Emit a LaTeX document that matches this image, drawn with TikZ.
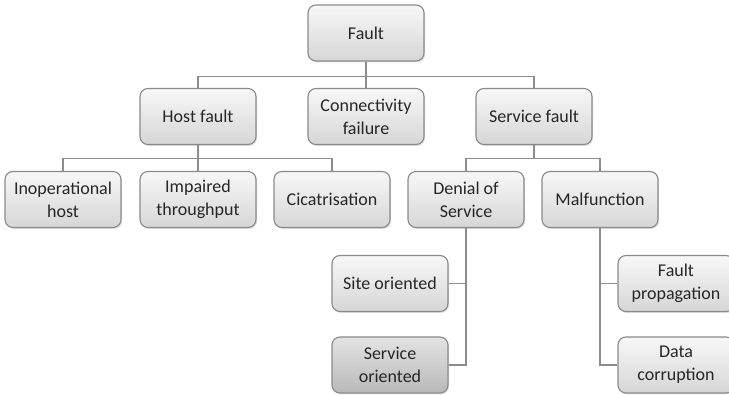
\documentclass[tikz,border=0pt]{standalone}
\usepackage{fontspec}
\setmainfont{Carlito}
\usepackage{tikz}
\usetikzlibrary{shadows}
\definecolor{boxline}{HTML}{8A8A8A}
\definecolor{linkline}{HTML}{8C8C8C}
\tikzstyle{category} = [rectangle, rounded corners=8pt, minimum width=116pt, minimum height=56pt, inner sep=2pt, align=center, draw=boxline, line width=1.1pt, top color=gray!6, bottom color=gray!32, text=black!85, font=\fontsize{18}{23}\selectfont, drop shadow={opacity=0.25, shadow xshift=1.2pt, shadow yshift=-1.5pt}]
\tikzstyle{highlight} = [category, top color=gray!22, bottom color=gray!55]
\tikzstyle{link} = [draw=linkline, line width=1.3pt]

\begin{document}
\begin{tikzpicture}[x=1pt, y=1pt]
\useasboundingbox (0,0) rectangle (729,-395);
\node (fault) [category] at (366,-33) {Fault};
\node (conn) [category, below of=fault, node distance=83.5pt] {Connectivity\\failure};
\node (host) [category, left of=conn, node distance=168pt] {Host fault};
\node (serv) [category, right of=conn, node distance=168pt] {Service fault};

\node (impaired) [category, below of=host, node distance=83pt] {Impaired\\throughput};
\node (inop) [category, left of=impaired, node distance=135pt] {Inoperational\\host};
\node (cica) [category, right of=impaired, node distance=134pt] {Cicatrisation};
\node (dos) [category, below of=serv, node distance=83pt, xshift=-68pt] {Denial of\\Service};
\node (malf) [category, below of=serv, node distance=83pt, xshift=66pt] {Malfunction};

\node (site) [category, below of=dos, node distance=84pt, xshift=-76pt] {Site oriented};
\node (servor) [highlight, below of=site, node distance=81.5pt] {Service\\oriented};
\node (faultprop) [category, below of=malf, node distance=84pt, xshift=76pt] {Fault\\propagation};
\node (datacor) [category, below of=faultprop, node distance=81.5pt] {Data\\corruption};

\draw [link] (fault.south) -- ++(0,-15) -| (host.north);
\draw [link] (fault.south) -- ++(0,-15) -| (serv.north);
\draw [link] (fault) -- (conn);

\draw [link] (host.south) -- ++(0,-13.5) -| (inop.north);
\draw [link] (host.south) -- ++(0,-13.5) -| (cica.north);
\draw [link] (host) -- (impaired);

\draw [link] (serv.south) -- ++(0,-13.5) -| (dos.north);
\draw [link] (serv.south) -- ++(0,-13.5) -| (malf.north);

\draw [link] (dos.south) |- (site.east);
\draw [link] (dos.south) |- (servor.east);
\draw [link] (malf.south) |- (faultprop.west);
\draw [link] (malf.south) |- (datacor.west);
\end{tikzpicture}
\end{document}
